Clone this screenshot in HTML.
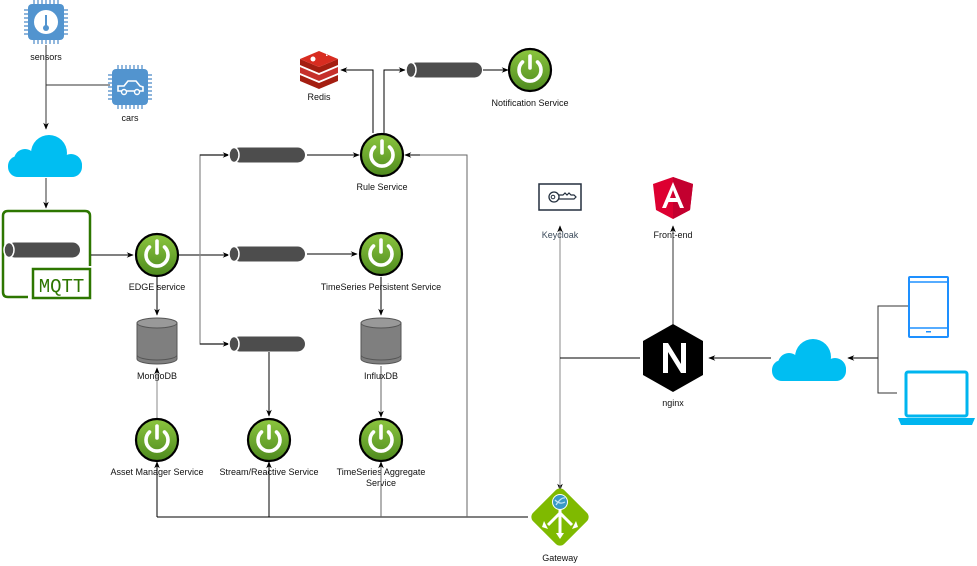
<!DOCTYPE html>
<html><head><meta charset="utf-8"><style>
html,body{margin:0;padding:0;background:#fff;}
svg{display:block;font-family:"Liberation Sans",sans-serif;}
text{font-size:9px;fill:#111;text-anchor:middle;}
</style></head><body>
<svg width="977" height="566" viewBox="0 0 977 566" xmlns="http://www.w3.org/2000/svg">
<defs>
<marker id="a" viewBox="0 0 10 10" refX="9" refY="5" markerWidth="7" markerHeight="7" orient="auto"><path d="M0,1 L10,5 L0,9 L3,5 z" fill="#000"/></marker>
<linearGradient id="g" x1="0" y1="0" x2="0" y2="1"><stop offset="0" stop-color="#8cc63f"/><stop offset="1" stop-color="#4e8a1e"/></linearGradient>
<g id="pw"><circle r="21" fill="url(#g)" stroke="#000" stroke-width="2.2"/><path d="M-7.5,-8 A11,11 0 1 0 7.5,-8" fill="none" stroke="#fff" stroke-width="3.6" stroke-linecap="round"/><line x1="0" y1="-14" x2="0" y2="-2" stroke="#fff" stroke-width="3.6" stroke-linecap="round"/></g>
<g id="pipe"><rect x="4" y="-7.5" width="73" height="15" rx="7.5" fill="#4d4d4d"/><ellipse cx="6" cy="0" rx="5" ry="7.5" fill="#4d4d4d" stroke="#fff" stroke-width="1.5"/></g>
<g id="cyl"><path d="M-20,-18 L-20,18 A20,5 0 0 0 20,18 L20,-18 Z" fill="#7f7f7f" stroke="#555" stroke-width="1"/><ellipse cx="0" cy="-18" rx="20" ry="5" fill="#999" stroke="#555" stroke-width="1"/><path d="M-20,14 A20,5 0 0 0 20,14" fill="none" stroke="#555"/></g>
<g id="cloud" fill="#00bef2"><rect x="-37" y="0" width="74" height="21" rx="10"/><circle cx="-20" cy="4" r="11"/><circle cx="4" cy="-3" r="18"/><circle cx="26" cy="9" r="11"/></g>
</defs>

<!-- sensors chip -->
<g transform="translate(46,22)">
<g stroke="#4a89c8" stroke-width="1.2">
<path d="M-12,-22v4M-8,-22v4M-4,-22v4M0,-22v4M4,-22v4M8,-22v4M12,-22v4M-12,18v4M-8,18v4M-4,18v4M0,18v4M4,18v4M8,18v4M12,18v4M-22,-12h4M-22,-8h4M-22,-4h4M-22,0h4M-22,4h4M-22,8h4M-22,12h4M18,-12h4M18,-8h4M18,-4h4M18,0h4M18,4h4M18,8h4M18,12h4"/></g>
<rect x="-18" y="-18" width="36" height="36" rx="4" fill="#5294cf"/>
<circle r="12" fill="#fff"/><line x1="0" y1="-7" x2="0" y2="5" stroke="#5294cf" stroke-width="2"/><circle cy="6" r="3" fill="#5294cf"/>
</g>
<text x="46" y="60">sensors</text>
<!-- cars chip -->
<g transform="translate(130,87)">
<g stroke="#4a89c8" stroke-width="1.2"><path d="M-12,-22v4M-8,-22v4M-4,-22v4M0,-22v4M4,-22v4M8,-22v4M12,-22v4M-12,18v4M-8,18v4M-4,18v4M0,18v4M4,18v4M8,18v4M12,18v4M-22,-12h4M-22,-8h4M-22,-4h4M-22,0h4M-22,4h4M-22,8h4M-22,12h4M18,-12h4M18,-8h4M18,-4h4M18,0h4M18,4h4M18,8h4M18,12h4"/></g>
<rect x="-18" y="-18" width="36" height="36" rx="4" fill="#5294cf"/>
<path d="M-12,4 L-12,-1 L-6,-1 L-2,-6 L6,-6 L10,-1 L13,0 L13,4 Z" fill="none" stroke="#fff" stroke-width="1.6"/><circle cx="-6" cy="5" r="2.5" fill="#5294cf" stroke="#fff" stroke-width="1.4"/><circle cx="7" cy="5" r="2.5" fill="#5294cf" stroke="#fff" stroke-width="1.4"/>
</g>
<text x="130" y="121">cars</text>
<line x1="46" y1="45" x2="46" y2="129" stroke="#333" marker-end="url(#a)"/>
<line x1="46" y1="85" x2="110" y2="85" stroke="#333"/>
<use href="#cloud" transform="translate(45,156)"/>
<line x1="46" y1="178" x2="46" y2="208" stroke="#333" marker-end="url(#a)"/>

<!-- MQTT -->
<path d="M28,297 L8,297 Q3,297 3,292 L3,216 Q3,211 8,211 L85,211 Q90,211 90,216 L90,266" fill="none" stroke="#2d7600" stroke-width="2.5"/>
<rect x="33" y="269" width="57" height="29" fill="#fff" stroke="#2d7600" stroke-width="2.5"/>
<text x="61.5" y="292" style="font-family:'Liberation Mono',monospace;font-size:19px;fill:#2d7600">MQTT</text>
<use href="#pipe" transform="translate(3,250)"/>
<line x1="91" y1="255" x2="133" y2="255" stroke="#000" marker-end="url(#a)"/>

<!-- EDGE -->
<use href="#pw" transform="translate(157,255)"/>
<text x="157" y="290">EDGE service</text>
<line x1="178" y1="255" x2="229" y2="255" stroke="#000" marker-end="url(#a)"/>
<polyline points="229,155 200,155 200,344 229,344" fill="none" stroke="#888" stroke-width="1.2"/>
<line x1="200" y1="155" x2="229" y2="155" stroke="#000" marker-end="url(#a)"/>
<line x1="200" y1="344" x2="229" y2="344" stroke="#000" marker-end="url(#a)"/>
<use href="#pipe" transform="translate(228,155)"/>
<use href="#pipe" transform="translate(228,254)"/>
<use href="#pipe" transform="translate(228,344)"/>
<line x1="307" y1="155" x2="359" y2="155" stroke="#000" marker-end="url(#a)"/>
<line x1="307" y1="254" x2="357" y2="254" stroke="#000" marker-end="url(#a)"/>

<!-- Rule -->
<use href="#pw" transform="translate(382,155)"/>
<text x="382" y="190">Rule Service</text>
<polyline points="373,133 373,70 341,70" fill="none" stroke="#000" marker-end="url(#a)"/>
<polyline points="384,133 384,70 405,70" fill="none" stroke="#000" marker-end="url(#a)"/>
<!-- Redis -->
<g transform="translate(319,69)">
<path d="M-19,6 L0,14 L19,6 L19,12 L0,20 L-19,12 Z" fill="#a41e11"/>
<path d="M-19,-2 L0,6 L19,-2 L19,4 L0,12 L-19,4 Z" fill="#c6302b"/>
<path d="M-19,-10 L0,-2 L19,-10 L19,-4 L0,4 L-19,-4 Z" fill="#a41e11"/>
<path d="M-19,-10 L0,-18 L19,-10 L0,-2 Z" fill="#d82c20"/>
<circle cx="-6" cy="-10" r="2.5" fill="#fff"/><path d="M4,-13 l3,0 l0,-2 l2,2 z" fill="#fff"/>
</g>
<text x="319" y="100">Redis</text>
<use href="#pipe" transform="translate(405,70)"/>
<line x1="483" y1="70" x2="508" y2="70" stroke="#000" marker-end="url(#a)"/>
<use href="#pw" transform="translate(530,70)"/>
<text x="530" y="106">Notification Service</text>

<!-- TS persistent -->
<use href="#pw" transform="translate(381,254)"/>
<text x="381" y="290">TimeSeries Persistent Service</text>
<line x1="381" y1="277" x2="381" y2="315" stroke="#000" marker-end="url(#a)"/>
<use href="#cyl" transform="translate(381,341)"/>
<text x="381" y="379">InfluxDB</text>
<line x1="381" y1="366" x2="381" y2="417" stroke="#666" marker-end="url(#a)"/>
<use href="#pw" transform="translate(381,440)"/>
<text x="381" y="475">TimeSeries Aggregate</text>
<text x="381" y="486">Service</text>

<!-- Mongo -->
<line x1="157" y1="277" x2="157" y2="315" stroke="#000" marker-end="url(#a)"/>
<use href="#cyl" transform="translate(157,341)"/>
<text x="157" y="379">MongoDB</text>
<line x1="157" y1="418" x2="157" y2="368" stroke="#888" marker-end="url(#a)"/>
<use href="#pw" transform="translate(157,440)"/>
<text x="157" y="475">Asset Manager Service</text>

<!-- Stream -->
<line x1="269" y1="352" x2="269" y2="416" stroke="#000" marker-end="url(#a)"/>
<use href="#pw" transform="translate(269,440)"/>
<text x="269" y="475">Stream/Reactive Service</text>

<!-- bottom bus -->
<polyline points="157,517 528,517" fill="none" stroke="#000"/>
<line x1="157" y1="517" x2="157" y2="462" stroke="#000" marker-end="url(#a)"/>
<line x1="269" y1="517" x2="269" y2="462" stroke="#000" marker-end="url(#a)"/>
<line x1="381" y1="517" x2="381" y2="462" stroke="#666" marker-end="url(#a)"/>
<polyline points="467,517 467,155 405,155" fill="none" stroke="#666" />
<line x1="420" y1="155" x2="405" y2="155" stroke="#000" marker-end="url(#a)"/>

<!-- Gateway -->
<line x1="560" y1="228" x2="560" y2="490" stroke="#888" marker-end="url(#a)"/>
<line x1="560" y1="490" x2="560" y2="226" stroke="#888" marker-end="url(#a)"/>
<line x1="560" y1="358" x2="640" y2="358" stroke="#000"/>
<g transform="translate(560,517)">
<rect x="-22" y="-22" width="44" height="44" rx="6" transform="rotate(45)" fill="#7fba00"/>
<path d="M0,-8 L0,20 M0,-4 L-12,8 M0,-4 L12,8" stroke="#fff" stroke-width="3" fill="none"/>
<path d="M-16,4 L-12,12 L-18,10 Z M16,4 L12,12 L18,10 Z M-4,16 L0,22 L4,16 Z" fill="#fff"/>
<circle cy="-15" r="7.5" fill="#3999c6" stroke="#fff" stroke-width="1"/>
<path d="M-5,-17 Q0,-12 5,-15 M-4,-12 Q1,-20 5,-19" stroke="#bfe4f6" stroke-width="1.3" fill="none"/>
</g>
<text x="560" y="561">Gateway</text>

<!-- Keycloak -->
<rect x="539" y="184" width="42" height="26" fill="#fff" stroke="#232f3e" stroke-width="1.5"/>
<circle cx="554" cy="197" r="5" fill="none" stroke="#232f3e" stroke-width="1.3"/><circle cx="553" cy="197" r="1.8" fill="none" stroke="#232f3e"/>
<path d="M559,195 L563,195 L565,193 L567,195 L569,193 L571,195 L574,195 L576,197 L574,199 L559,199" fill="none" stroke="#232f3e" stroke-width="1.2"/>
<text x="560" y="238" style="fill:#3b4a5a">Keycloak</text>

<!-- Angular -->
<path d="M673,177 L693,184 L690,210 L673,219 L656,210 L653,184 Z" fill="#dd0031"/>
<path d="M673,177 L693,184 L690,210 L673,219 Z" fill="#c3002f"/>
<path d="M673,182 L662,208 L666,208 L668.5,202 L677.5,202 L680,208 L684,208 Z M670,198 L673,190 L676,198 Z" fill="#fff"/>
<text x="673" y="238">Front-end</text>
<line x1="673" y1="325" x2="673" y2="226" stroke="#333" marker-end="url(#a)"/>

<!-- nginx -->
<path d="M673,324 L703,341 L703,375 L673,392 L643,375 L643,341 Z" fill="#000"/>
<path d="M663,373 L663,343 L668,343 L681,364 L681,343 L686,343 L686,373 L681,373 L668,352 L668,373 Z" fill="#fff"/>
<text x="673" y="406">nginx</text>

<!-- right cloud -->
<use href="#cloud" transform="translate(809,360)"/>
<line x1="771" y1="358" x2="709" y2="358" stroke="#000" marker-end="url(#a)"/>
<line x1="878" y1="358" x2="848" y2="358" stroke="#000" marker-end="url(#a)"/>
<polyline points="908,306 878,306 878,393 897,393" fill="none" stroke="#333"/>

<!-- tablet -->
<rect x="909" y="277" width="39" height="60" rx="1" fill="#fff" stroke="#1e90ff" stroke-width="2"/>
<line x1="909" y1="282" x2="948" y2="282" stroke="#1e90ff" stroke-width="1.5"/>
<line x1="909" y1="328" x2="948" y2="328" stroke="#1e90ff" stroke-width="1.5"/>
<rect x="926" y="331" width="5" height="1.5" fill="#1e90ff"/>
<!-- laptop -->
<rect x="906" y="372" width="61" height="44" rx="2" fill="#fff" stroke="#00b5ef" stroke-width="3"/>
<path d="M898,418 L975,418 L972,425 L901,425 Z" fill="#00b5ef"/>
</svg>
</body></html>
